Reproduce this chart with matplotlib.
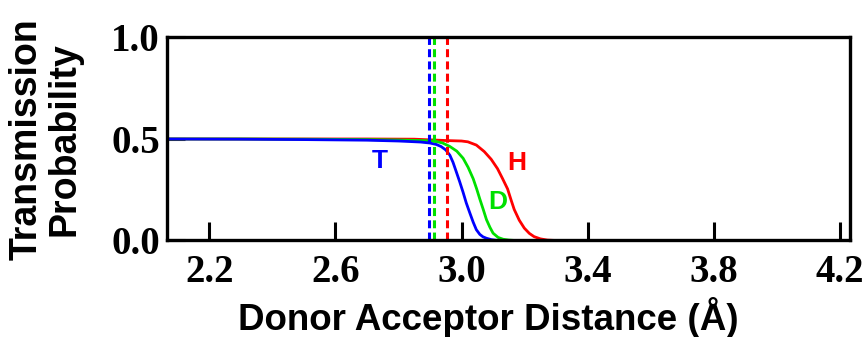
import matplotlib
matplotlib.use("Agg")
import matplotlib.pyplot as plt

# distancias (Å) y probabilidad de transmisión
x_T = [2.066, 2.3, 2.5, 2.7, 2.8, 2.87, 2.9, 2.92, 2.935, 2.95, 2.963, 2.973, 2.983, 2.994,
       3.005, 3.015, 3.026, 3.037, 3.047, 3.058, 3.068, 3.079, 3.095, 3.11, 3.13]
p_T = [0.50, 0.499, 0.497, 0.494, 0.49, 0.485, 0.48, 0.473, 0.463, 0.446, 0.42, 0.385, 0.34, 0.29,
       0.237, 0.185, 0.137, 0.09, 0.053, 0.03, 0.018, 0.011, 0.004, 0.001, 0.0]

x_D = [2.066, 2.3, 2.5, 2.7, 2.8, 2.88, 2.914, 2.94, 2.963, 2.985, 3.005, 3.021, 3.037, 3.048,
       3.058, 3.069, 3.079, 3.09, 3.1, 3.116, 3.132, 3.15, 3.17]
p_D = [0.50, 0.50, 0.499, 0.497, 0.495, 0.492, 0.49, 0.48, 0.463, 0.44, 0.405, 0.36, 0.304, 0.254,
       0.204, 0.152, 0.103, 0.065, 0.036, 0.015, 0.006, 0.002, 0.0]

x_H = [2.066, 2.3, 2.5, 2.7, 2.85, 2.956, 3.0, 3.02, 3.047, 3.072, 3.094, 3.114, 3.13, 3.146,
       3.157, 3.167, 3.183, 3.199, 3.215, 3.23, 3.25, 3.272, 3.3]
p_H = [0.50, 0.50, 0.50, 0.50, 0.499, 0.492, 0.49, 0.486, 0.47, 0.438, 0.4, 0.354, 0.305, 0.254,
       0.2, 0.153, 0.1, 0.061, 0.035, 0.019, 0.008, 0.002, 0.0]

# distancias de equilibrio (líneas punteadas)
x_eq = {"T": 2.898, "D": 2.913, "H": 2.954}

colores = {"T": "#0000ff", "D": "#00e000", "H": "#ff0000"}
etiquetas = {"T": (2.74, 0.39), "D": (3.115, 0.19), "H": (3.175, 0.38)}

fig = plt.figure(figsize=(8.63, 3.37), dpi=100)
ax = fig.add_axes([0.1935, 0.2864, 0.7915, 0.6024])

for k, xs, ps in [("H", x_H, p_H), ("D", x_D, p_D), ("T", x_T, p_T)]:
    ax.plot(xs, ps, color=colores[k], lw=2.0, solid_joinstyle="round")
for k in ["H", "D", "T"]:
    ax.axvline(x_eq[k], color=colores[k], lw=2.2, ls=(0, (2.6, 1.4)))
for k, (tx, ty) in etiquetas.items():
    ax.text(tx, ty, k, color=colores[k], fontsize=19, fontweight="bold",
            family="Liberation Sans", ha="center", va="center")

ax.set_xlim(2.066, 4.232)
ax.set_ylim(0, 1.0)
ax.set_xticks([2.2, 2.6, 3.0, 3.4, 3.8, 4.2])
ax.set_yticks([0.0, 0.5, 1.0])
ax.tick_params(direction="in", length=13, width=2.2, labelsize=28)
ax.tick_params(axis="x", pad=10)
ax.tick_params(axis="y", pad=5)
for lab in ax.get_xticklabels() + ax.get_yticklabels():
    lab.set_family("Liberation Serif")
    lab.set_fontweight("bold")
for s in ax.spines.values():
    s.set_linewidth(2.4)

ax.set_xlabel("Donor Acceptor Distance (Å)", fontsize=26.5, fontweight="bold",
              family="Liberation Sans")
ax.xaxis.set_label_coords(0.4707, -0.28)
ax.set_ylabel("Transmission\nProbability", fontsize=27, fontweight="bold",
              family="Liberation Sans", linespacing=1.05, labelpad=21)

fig.savefig("out.png", dpi=100)
